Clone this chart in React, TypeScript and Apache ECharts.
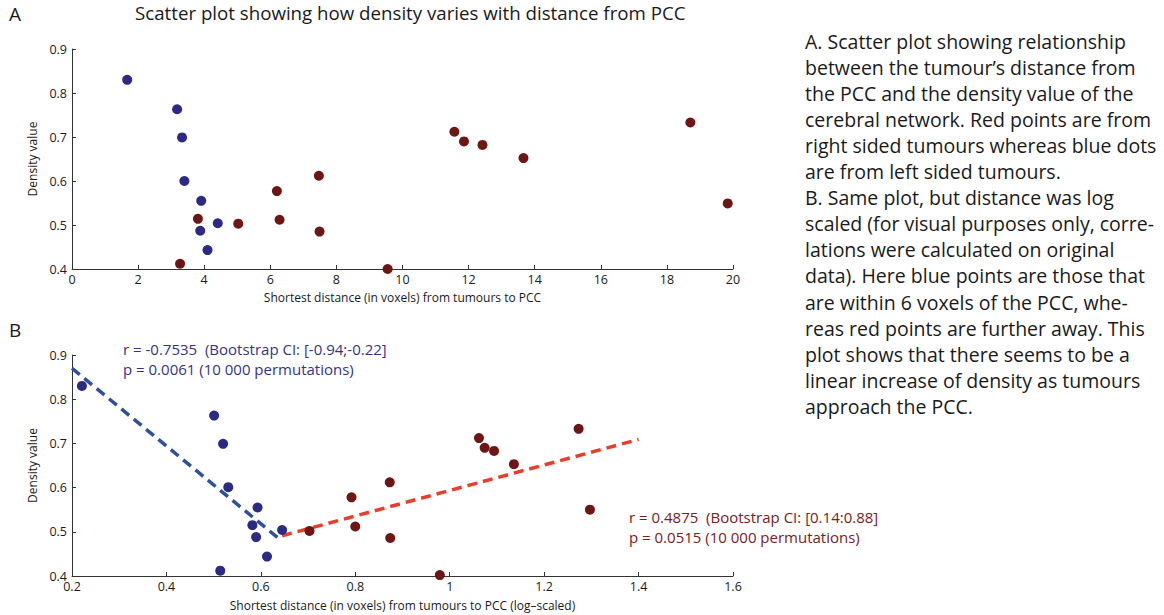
import React, { useEffect, useRef } from "react";
import * as echarts from "echarts";

// Panel A: raw distance (voxels) vs density
const leftDist = [1.67, 3.18, 3.33, 3.40, 3.91, 3.88, 4.41, 4.10];
const leftDensity = [0.830, 0.763, 0.699, 0.600, 0.555, 0.487, 0.504, 0.443];
const rightDist = [3.27, 3.81, 5.03, 6.20, 6.28, 7.47, 7.49, 9.55, 11.57, 11.86, 12.42, 13.66, 18.71, 19.84];
const rightDensity = [0.412, 0.514, 0.503, 0.577, 0.512, 0.612, 0.485, 0.400, 0.712, 0.690, 0.682, 0.652, 0.733, 0.549];

// Panel B: log-scaled distance vs density
const nearLog = [0.221, 0.501, 0.520, 0.531, 0.593, 0.582, 0.590, 0.613, 0.514, 0.645];
const nearDensity = [0.830, 0.763, 0.699, 0.601, 0.555, 0.515, 0.488, 0.444, 0.412, 0.504];
const farLog = [0.703, 0.792, 0.800, 0.873, 0.874, 0.979, 1.062, 1.074, 1.094, 1.136, 1.273, 1.297];
const farDensity = [0.502, 0.578, 0.512, 0.612, 0.486, 0.402, 0.712, 0.690, 0.683, 0.653, 0.733, 0.550];

// Regression line end points
const nearFitX = [0.2, 0.64];
const nearFitY = [0.870, 0.483];
const farFitX = [0.645, 1.4];
const farFitY = [0.491, 0.709];

const topXTicks = { min: 0, max: 20, interval: 2 };
const bottomXTicks = { min: 0.2, max: 1.6, interval: 0.2 };
const yTicks = { min: 0.4, max: 0.9, interval: 0.1 };

const captionLines = [
  "A. Scatter plot showing relationship",
  "between the tumour\u2019s distance from",
  "the PCC and the density value of the",
  "cerebral network. Red points are from",
  "right sided tumours whereas blue dots",
  "are from left sided tumours.",
  "B. Same plot, but distance was log",
  "scaled (for visual purposes only, corre-",
  "lations were calculated on original",
  "data). Here blue points are those that",
  "are within 6 voxels of the PCC, whe-",
  "reas red points are further away. This",
  "plot shows that there seems to be a",
  "linear increase of density as tumours",
  "approach the PCC.",
];

const FONT = "Open Sans";
const INK = "#1a1a1a";
const BLUE = "#2c2a84";
const RED = "#6e1616";
const BLUE_LINE = "#2f4f9f";
const RED_LINE = "#ea3d2a";
const BLUE_TEXT = "#35347f";
const RED_TEXT = "#7a2020";

const zip = (a: number[], b: number[]) => a.map((v, i) => [v, b[i]]);
const fmt = (v: number) => String(parseFloat(Number(v).toFixed(1)));

export default function App() {
  const ref = useRef<HTMLDivElement>(null);
  useEffect(() => {
    document.body.style.margin = "0";
    if (!ref.current) return;
    const chart = echarts.init(ref.current, undefined, { renderer: "svg" });
    const axisCommon = {
      axisLine: { lineStyle: { color: "#333", width: 1 } },
      axisTick: { inside: true, length: 4, lineStyle: { color: "#333" } },
      splitLine: { show: false },
      axisLabel: { color: INK, fontSize: 12.5, fontFamily: FONT, formatter: fmt },
      nameTextStyle: { color: INK, fontSize: 12, fontFamily: FONT },
    };
    const dot = { color: BLUE, opacity: 1 };
    const rdot = { color: RED, opacity: 1 };
    chart.setOption({
      animation: false,
      backgroundColor: "#ffffff",
      textStyle: { fontFamily: FONT },
      grid: [
        { left: 72, right: 1164 - 733, top: 49, height: 220 },
        { left: 72, right: 1164 - 733, top: 355, height: 221 },
      ],
      xAxis: [
        {
          ...axisCommon,
          gridIndex: 0,
          type: "value",
          ...topXTicks,
          name: "Shortest distance (in voxels) from tumours to PCC",
          nameLocation: "middle",
          nameGap: 22,
          axisLabel: { ...axisCommon.axisLabel, margin: 4, formatter: (v: number) => String(v) },
        },
        {
          ...axisCommon,
          gridIndex: 1,
          type: "value",
          ...bottomXTicks,
          name: "Shortest distance (in voxels) from tumours to PCC (log\u2013scaled)",
          nameLocation: "middle",
          nameGap: 23,
          axisLabel: { ...axisCommon.axisLabel, margin: 4 },
        },
      ],
      yAxis: [
        {
          ...axisCommon,
          gridIndex: 0,
          type: "value",
          ...yTicks,
          name: "Density value",
          nameLocation: "middle",
          nameGap: 27,
          axisLabel: { ...axisCommon.axisLabel, margin: 5 },
        },
        {
          ...axisCommon,
          gridIndex: 1,
          type: "value",
          ...yTicks,
          name: "Density value",
          nameLocation: "middle",
          nameGap: 27,
          axisLabel: { ...axisCommon.axisLabel, margin: 5 },
        },
      ],
      series: [
        {
          type: "scatter", xAxisIndex: 0, yAxisIndex: 0, clip: false,
          symbolSize: 10, itemStyle: dot, data: zip(leftDist, leftDensity),
        },
        {
          type: "scatter", xAxisIndex: 0, yAxisIndex: 0, clip: false,
          symbolSize: 10, itemStyle: rdot, data: zip(rightDist, rightDensity),
        },
        {
          type: "line", xAxisIndex: 1, yAxisIndex: 1, showSymbol: false, symbol: "none",
          lineStyle: { color: BLUE_LINE, width: 3.5, type: [10, 6] }, data: zip(nearFitX, nearFitY), z: 1,
        },
        {
          type: "line", xAxisIndex: 1, yAxisIndex: 1, showSymbol: false, symbol: "none",
          lineStyle: { color: RED_LINE, width: 3.5, type: [10, 6] }, data: zip(farFitX, farFitY), z: 1,
        },
        {
          type: "scatter", xAxisIndex: 1, yAxisIndex: 1, clip: false,
          symbolSize: 10, itemStyle: dot, data: zip(nearLog, nearDensity), z: 3,
        },
        {
          type: "scatter", xAxisIndex: 1, yAxisIndex: 1, clip: false,
          symbolSize: 10, itemStyle: rdot, data: zip(farLog, farDensity), z: 3,
        },
      ],
      graphic: [
        { type: "text", left: 9, top: 4, style: { text: "A", fontSize: 19, fontFamily: FONT, fill: INK } },
        { type: "text", left: 9, top: 320, style: { text: "B", fontSize: 19, fontFamily: FONT, fill: INK } },
        {
          type: "text", left: 135, top: 3,
          style: { text: "Scatter plot showing how density varies with distance from PCC", fontSize: 18.7, fontFamily: FONT, fill: INK },
        },
        {
          type: "text", left: 123, top: 339,
          style: {
            text: "r = -0.7535  (Bootstrap CI: [-0.94;-0.22]\np = 0.0061 (10 000 permutations)",
            fontSize: 15, lineHeight: 20, fontFamily: FONT, fill: BLUE_TEXT,
          },
        },
        {
          type: "text", left: 629, top: 507,
          style: {
            text: "r = 0.4875  (Bootstrap CI: [0.14:0.88]\np = 0.0515 (10 000 permutations)",
            fontSize: 15, lineHeight: 20, fontFamily: FONT, fill: RED_TEXT,
          },
        },
        {
          type: "text", left: 805, top: 28,
          style: {
            text: captionLines.join("\n"),
            fontSize: 19.5, lineHeight: 26.1, fontFamily: FONT, fill: INK,
          },
        },
      ],
    });
    return () => chart.dispose();
  }, []);
  return <div ref={ref} style={{ width: 1164, height: 615 }} />;
}
